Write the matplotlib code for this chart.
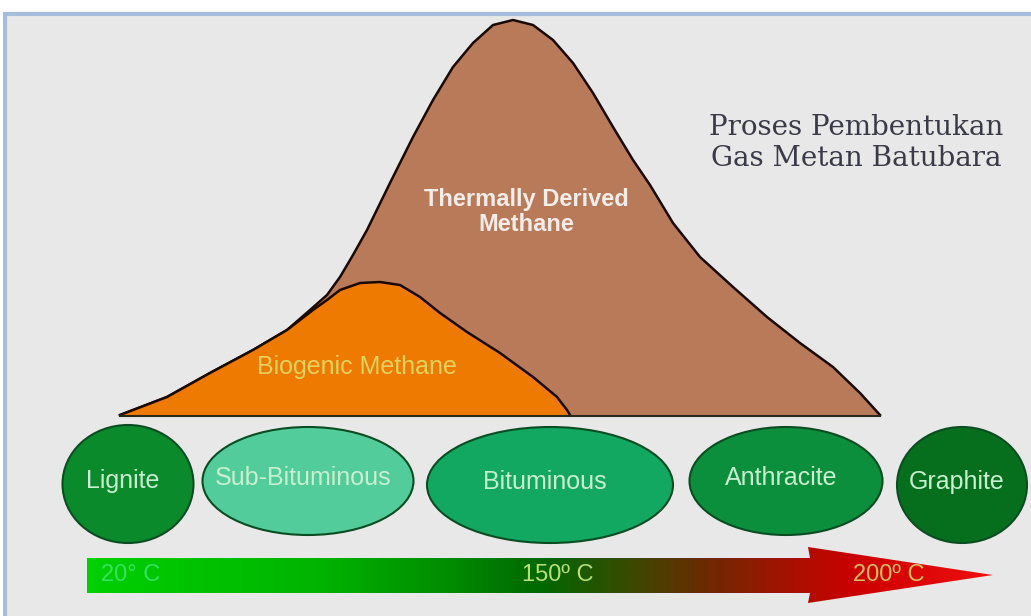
import matplotlib.pyplot as plt
import numpy as np
from matplotlib.patches import Polygon, Ellipse, Rectangle
from matplotlib.colors import LinearSegmentedColormap

# outline of the thermally derived methane curve (pixel space, y down)
thermal_x = [120, 167, 210, 253, 287, 310, 327, 340, 353, 367, 390, 413, 433, 453, 473, 493,
             513, 533, 553, 573, 593, 613, 633, 650, 673, 700, 733, 767, 800, 833, 860, 880]
thermal_y = [415, 397, 373, 350, 330, 310, 295, 277, 255, 230, 183, 137, 100, 67, 43, 25,
             20, 25, 40, 63, 93, 127, 160, 185, 223, 257, 287, 317, 343, 367, 393, 415]

# outline of the biogenic methane curve
biogenic_x = [120, 167, 210, 253, 287, 313, 327, 340, 360, 380, 400, 420, 440, 467, 500,
              533, 557, 567, 570]
biogenic_y = [415, 397, 373, 350, 330, 310, 300, 290, 283, 282, 285, 297, 313, 332, 353,
              377, 397, 410, 415]

# coal ranks
ranks = ["Lignite", "Sub-Bituminous", "Bituminous", "Anthracite", "Graphite"]
rank_cx = [128, 308, 550, 786, 962]
rank_cy = [484, 481, 485, 481, 485]
rank_w = [131, 211, 246, 193, 130]
rank_h = [118, 108, 116, 108, 116]
rank_colors = ["#0b8a2c", "#52cc9a", "#12a861", "#0c8f3c", "#066f1e"]

# temperature labels on the arrow
temps = ["20° C", "150º C", "200º C"]
temp_x = [131, 558, 889]
temp_colors = ["#38e060", "#b8e070", "#dcc060"]


def main():
    fig = plt.figure(figsize=(10.31, 6.16), dpi=100)
    fig.patch.set_facecolor("white")
    ax = fig.add_axes([0, 0, 1, 1])
    ax.set_xlim(0, 1031)
    ax.set_ylim(616, 0)
    ax.axis("off")

    # frame
    ax.add_patch(Rectangle((5, 14), 1040, 620, facecolor="#e8e8e8",
                           edgecolor="#a5bddb", linewidth=3, zorder=0))

    # methane curves
    ax.add_patch(Polygon(list(zip(thermal_x, thermal_y)), closed=True,
                         facecolor="#b97a5a", edgecolor="none", zorder=1))
    ax.plot(thermal_x, thermal_y, color="#1a0a05", lw=1.8, zorder=2,
            solid_joinstyle="round")
    ax.add_patch(Polygon(list(zip(biogenic_x, biogenic_y)), closed=True,
                         facecolor="#ee7a02", edgecolor="none", zorder=3))
    ax.plot(biogenic_x, biogenic_y, color="#1a0a05", lw=1.8, zorder=4,
            solid_joinstyle="round")
    ax.plot([120, 880], [416, 416], color="#2a2a1a", lw=1.5, zorder=4)

    ax.text(526, 212, "Thermally Derived\nMethane", ha="center", va="center",
            fontsize=17, fontweight="bold", color="#f6ece8",
            family="Liberation Sans", linespacing=1.1, zorder=5)
    ax.text(357, 367, "Biogenic Methane", ha="center", va="center",
            fontsize=18, color="#e6d25e", family="Liberation Sans", zorder=5)

    ax.text(856, 143, "Proses Pembentukan\nGas Metan Batubara", ha="center", va="center",
            fontsize=20, color="#3a3a48", family="DejaVu Serif",
            linespacing=1.15, zorder=5)

    # coal rank ellipses
    for name, cx, cy, w, h, c in zip(ranks, rank_cx, rank_cy, rank_w, rank_h, rank_colors):
        ax.add_patch(Ellipse((cx, cy), w, h, facecolor=c, edgecolor="#0b4d22",
                             linewidth=1.5, zorder=2))
        ax.text(cx - 5, cy - 3, name, ha="center", va="center", fontsize=18,
                color="#c8f0d0", family="Liberation Sans", zorder=3)

    # temperature arrow with gradient fill
    arrow = Polygon([(87, 558), (810, 558), (808, 547), (993, 575), (808, 603),
                     (810, 593), (87, 593)], closed=True, facecolor="none",
                    edgecolor="none", zorder=2)
    ax.add_patch(arrow)
    stops = [(0.0, "#00d000"), (0.25, "#00b400"), (0.4, "#008c00"), (0.5, "#006800"),
             (0.6, "#3a4a00"), (0.68, "#6a2c00"), (0.78, "#a81000"), (0.85, "#cc0000"),
             (1.0, "#f01010")]
    cmap = LinearSegmentedColormap.from_list("temp", stops)
    grad = np.linspace(0, 1, 512)[None, :]
    im = ax.imshow(grad, cmap=cmap, extent=[87, 993, 603, 547], aspect="auto", zorder=2)
    im.set_clip_path(arrow)
    ax.set_xlim(0, 1031)
    ax.set_ylim(616, 0)

    for t, x, c in zip(temps, temp_x, temp_colors):
        ax.text(x, 575, t, ha="center", va="center", fontsize=17, color=c,
                family="Liberation Sans", zorder=3)

    fig.savefig("out.png", dpi=100)


if __name__ == '__main__':
    main()
